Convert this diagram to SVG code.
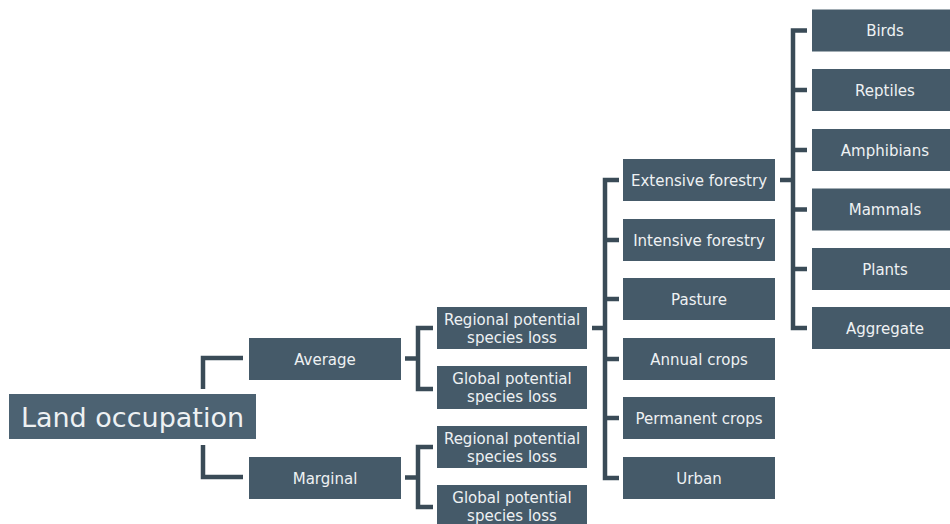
<svg xmlns="http://www.w3.org/2000/svg" width="950" height="524" viewBox="0 0 950 524">
  <style>
    .box { fill: #455a69; }
    .root { fill: #4c6272; }
    .lbl { font-family: "DejaVu Sans", Verdana, sans-serif; font-size: 15px; fill: #eef1f3; text-anchor: middle; }
    .big { font-family: "DejaVu Sans", Verdana, sans-serif; font-size: 27px; fill: #eef1f3; text-anchor: middle; }
    .wire { fill: none; stroke: #3a4b57; stroke-width: 4.5; stroke-linejoin: miter; stroke-linecap: butt; }
  </style>
  <rect width="950" height="524" fill="#ffffff"/>

  <!-- connectors -->
  <g id="connectors" class="wire">
    <path d="M243,358 H203 V389"/>
    <path d="M203,445 V477 H243"/>
    <path d="M405,358.5 H418"/>
    <path d="M433,328 H418 V389 H433"/>
    <path d="M405,477.5 H418"/>
    <path d="M433,447 H418 V507 H433"/>
    <path d="M592,328 H605"/>
    <path d="M619,180 H605 V478 H619"/>
    <path d="M605,240 H619 M605,299 H619 M605,359 H619 M605,418 H619"/>
    <path d="M780,180 H793"/>
    <path d="M807,30.5 H793 V328 H807"/>
    <path d="M793,90 H807 M793,150 H807 M793,209.5 H807 M793,269 H807"/>
  </g>

  <!-- root -->
  <g id="land-occupation">
    <rect class="root" x="9" y="394" width="247" height="45"/>
    <text class="big" x="132.5" y="426.5">Land occupation</text>
  </g>

  <!-- approach -->
  <g id="average">
    <rect class="box" x="249" y="338" width="152" height="42"/>
    <text class="lbl" x="325" y="364.5">Average</text>
  </g>
  <g id="marginal">
    <rect class="box" x="249" y="457" width="152" height="42"/>
    <text class="lbl" x="325" y="483.5">Marginal</text>
  </g>

  <!-- species loss scope -->
  <g id="avg-regional">
    <rect class="box" x="437" y="307" width="150" height="42"/>
    <text class="lbl" x="512" y="325">Regional potential</text>
    <text class="lbl" x="512" y="343">species loss</text>
  </g>
  <g id="avg-global">
    <rect class="box" x="437" y="366" width="150" height="43"/>
    <text class="lbl" x="512" y="384">Global potential</text>
    <text class="lbl" x="512" y="402">species loss</text>
  </g>
  <g id="mar-regional">
    <rect class="box" x="437" y="426" width="150" height="42"/>
    <text class="lbl" x="512" y="444">Regional potential</text>
    <text class="lbl" x="512" y="462">species loss</text>
  </g>
  <g id="mar-global">
    <rect class="box" x="437" y="485" width="150" height="42"/>
    <text class="lbl" x="512" y="503">Global potential</text>
    <text class="lbl" x="512" y="521">species loss</text>
  </g>

  <!-- land use types -->
  <g id="extensive-forestry">
    <rect class="box" x="623" y="159" width="152" height="42"/>
    <text class="lbl" x="699" y="185.5">Extensive forestry</text>
  </g>
  <g id="intensive-forestry">
    <rect class="box" x="623" y="219" width="152" height="42"/>
    <text class="lbl" x="699" y="245.5">Intensive forestry</text>
  </g>
  <g id="pasture">
    <rect class="box" x="623" y="278" width="152" height="42"/>
    <text class="lbl" x="699" y="304.5">Pasture</text>
  </g>
  <g id="annual-crops">
    <rect class="box" x="623" y="338" width="152" height="42"/>
    <text class="lbl" x="699" y="364.5">Annual crops</text>
  </g>
  <g id="permanent-crops">
    <rect class="box" x="623" y="397" width="152" height="42"/>
    <text class="lbl" x="699" y="423.5">Permanent crops</text>
  </g>
  <g id="urban">
    <rect class="box" x="623" y="457" width="152" height="42"/>
    <text class="lbl" x="699" y="483.5">Urban</text>
  </g>

  <!-- taxonomic groups -->
  <g id="birds">
    <rect class="box" x="812" y="9.5" width="146" height="42"/>
    <text class="lbl" x="885" y="36">Birds</text>
  </g>
  <g id="reptiles">
    <rect class="box" x="812" y="69" width="146" height="42"/>
    <text class="lbl" x="885" y="95.5">Reptiles</text>
  </g>
  <g id="amphibians">
    <rect class="box" x="812" y="129" width="146" height="42"/>
    <text class="lbl" x="885" y="155.5">Amphibians</text>
  </g>
  <g id="mammals">
    <rect class="box" x="812" y="188.5" width="146" height="42"/>
    <text class="lbl" x="885" y="215">Mammals</text>
  </g>
  <g id="plants">
    <rect class="box" x="812" y="248" width="146" height="42"/>
    <text class="lbl" x="885" y="274.5">Plants</text>
  </g>
  <g id="aggregate">
    <rect class="box" x="812" y="307" width="146" height="42"/>
    <text class="lbl" x="885" y="333.5">Aggregate</text>
  </g>
</svg>
